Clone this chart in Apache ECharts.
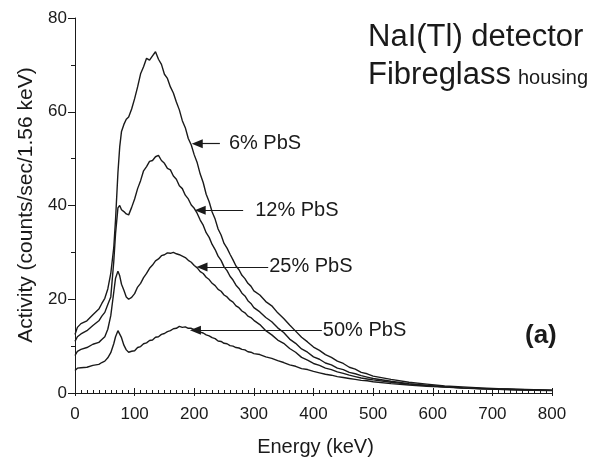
<!DOCTYPE html>
<html>
<head>
<meta charset="utf-8">
<script src="https://cdn.jsdelivr.net/npm/echarts@6/dist/echarts.min.js"></script>
<style>
  html, body { margin: 0; padding: 0; background: #ffffff; }
  #chart { width: 613px; height: 457px; }
</style>
</head>
<body>
<div id="chart"></div>
<script>
// Gamma spectra, NaI(Tl) detector in fibreglass housing, for four PbS grades
const energyKeV = [0, 4, 10, 20, 30, 40, 45, 50, 55, 60,
  65, 68, 72, 75, 78, 82, 86, 90, 95,
  100, 105, 110, 115, 120, 125, 130, 135, 140, 145,
  150, 155, 160, 165, 170, 175, 180, 185, 190, 195,
  200, 205, 210, 215, 220, 225, 230, 235, 240, 245,
  250, 255, 260, 265, 270, 275, 280, 285, 290, 295, 300,
  310, 320, 330, 340, 350, 360, 370, 380, 390, 400,
  410, 420, 430, 440, 450, 460, 470, 480, 490, 500,
  530, 560, 590, 620, 650, 680, 710, 740, 770, 800];

const pbs6 = [12.5, 14.0, 14.8, 15.4, 16.7, 17.9, 19.1, 20.2, 22.2, 25.5,
  31.0, 37.0, 47.0, 52.5, 55.8, 57.3, 58.4, 58.9, 60.6,
  62.8, 65.3, 68.1, 69.6, 71.4, 71.0, 71.9, 72.8, 71.2, 70.1,
  68.0, 67.1, 65.3, 64.0, 62.1, 60.4, 58.1, 56.6, 54.3, 52.9,
  50.8, 49.1, 46.7, 44.9, 42.4, 40.8, 38.6, 37.1, 35.0, 33.7,
  31.9, 30.9, 29.6, 28.4, 27.1, 26.3, 25.1, 24.4, 23.4, 22.8, 21.8,
  20.9, 19.5, 18.6, 17.1, 15.9, 14.5, 13.2, 11.9, 10.9, 9.8,
  9.1, 8.2, 7.6, 6.8, 6.3, 5.5, 5.1, 4.4, 4.1, 3.6,
  2.9, 2.3, 1.9, 1.5, 1.3, 1.1, 0.9, 0.8, 0.7, 0.6];

const pbs12 = [11.0, 12.0, 12.6, 13.3, 14.4, 15.4, 16.4, 17.2, 18.9, 20.5,
  28.0, 34.0, 39.5, 40.0, 39.1, 38.7, 38.2, 38.0, 39.6,
  41.4, 43.6, 45.3, 47.4, 48.3, 49.4, 49.6, 50.4, 50.7, 49.6,
  49.0, 47.9, 47.6, 46.3, 45.6, 44.2, 43.6, 42.2, 41.4, 40.1,
  39.4, 38.3, 36.9, 35.8, 34.2, 33.2, 31.7, 30.6, 29.2, 28.3,
  26.9, 26.1, 24.9, 24.1, 23.0, 22.3, 21.3, 20.7, 19.7, 19.1, 18.2,
  17.3, 16.1, 15.2, 13.9, 12.9, 11.5, 10.6, 9.4, 8.7, 7.7,
  7.2, 6.4, 6.0, 5.3, 5.0, 4.4, 4.1, 3.7, 3.4, 3.1,
  2.5, 2.0, 1.6, 1.3, 1.1, 0.95, 0.85, 0.75, 0.65, 0.55];

const pbs25 = [8.0, 8.9, 9.3, 9.7, 10.4, 10.8, 11.4, 12.0, 13.6, 16.5,
  21.5, 24.5, 26.0, 25.0, 23.2, 21.9, 20.5, 20.0, 20.4,
  21.2, 22.6, 23.4, 24.6, 25.5, 26.6, 27.3, 28.2, 28.6, 29.3,
  29.5, 29.9, 29.8, 30.0, 29.7, 29.5, 29.2, 28.9, 28.3, 27.9,
  27.2, 26.7, 25.9, 25.5, 24.7, 24.2, 23.4, 22.9, 22.1, 21.7,
  20.9, 20.5, 19.8, 19.4, 18.6, 18.2, 17.5, 17.1, 16.4, 16.1, 15.5,
  14.6, 13.3, 12.4, 11.3, 10.6, 9.5, 8.7, 7.6, 7.0, 6.3,
  5.9, 5.3, 5.0, 4.5, 4.2, 3.8, 3.5, 3.2, 3.0, 2.8,
  2.3, 1.9, 1.6, 1.3, 1.1, 0.95, 0.8, 0.7, 0.62, 0.55];

const pbs50 = [4.8, 5.3, 5.4, 5.5, 5.9, 6.1, 6.5, 6.8, 7.5, 8.6,
  10.5, 12.0, 13.3, 13.0, 11.8, 10.2, 9.2, 8.7, 8.9,
  9.0, 9.7, 9.9, 10.5, 10.7, 11.2, 11.3, 11.9, 12.0, 12.5,
  12.7, 13.1, 13.3, 13.7, 13.8, 14.2, 14.0, 14.1, 13.8, 13.8,
  13.5, 13.4, 13.0, 12.8, 12.4, 12.2, 11.8, 11.6, 11.1, 11.0,
  10.6, 10.5, 10.1, 10.0, 9.7, 9.6, 9.3, 9.2, 8.8, 8.7, 8.4,
  8.2, 7.7, 7.4, 6.9, 6.5, 6.0, 5.7, 5.2, 5.0, 4.6,
  4.3, 4.0, 3.8, 3.5, 3.3, 3.1, 2.9, 2.7, 2.6, 2.4,
  2.0, 1.7, 1.45, 1.25, 1.05, 0.9, 0.8, 0.7, 0.6, 0.5];

const seriesNames = ['6% PbS', '12% PbS', '25% PbS', '50% PbS'];
const spectra = [pbs6, pbs12, pbs25, pbs50];

const titleLine1 = 'NaI(Tl) detector';
const titleLine2a = 'Fibreglass';
const titleLine2b = 'housing';
const panelTag = '(a)';
const xAxisTitle = 'Energy (keV)';
const yAxisTitle = 'Activity (counts/sec/1.56 keV)';

// Leader arrows (data units): label sits right of "from", arrow head at "to"
const arrowLayout = [
  { from: [243, 53.2], to: [205, 53.2], gap: 9 },
  { from: [282, 39.0], to: [210, 39.0], gap: 12 },
  { from: [324, 26.9], to: [213, 26.9], gap: 1 },
  { from: [414, 13.4], to: [202, 13.4], gap: 1 }
];

const FONT = '"Liberation Sans", Arial, Helvetica, sans-serif';
const INK = '#1a1a1a';

const chart = echarts.init(document.getElementById('chart'), null, { renderer: 'canvas' });

chart.setOption({
  animation: false,
  backgroundColor: '#ffffff',
  grid: { left: 75, right: 61, top: 18, bottom: 64, containLabel: false },
  xAxis: [
    {
      type: 'value', min: 0, max: 800, interval: 100,
      axisLine: { show: true, lineStyle: { color: INK, width: 1 } },
      axisTick: { show: true, inside: true, length: 5, lineStyle: { color: INK } },
      minorTick: { show: true, splitNumber: 10, length: 3, lineStyle: { color: INK } },
      axisLabel: { fontFamily: FONT, fontSize: 17, color: INK, margin: 13 },
      splitLine: { show: false }
    },
    {
      // outward stubs of the major ticks
      type: 'value', min: 0, max: 800, interval: 100, position: 'bottom',
      axisLine: { show: false },
      axisTick: { show: true, inside: false, length: 3, lineStyle: { color: INK } },
      axisLabel: { show: false },
      splitLine: { show: false }
    }
  ],
  yAxis: {
    type: 'value', min: 0, max: 80, interval: 20,
    axisLine: { show: true, lineStyle: { color: INK, width: 1 } },
    axisTick: { show: true, inside: false, length: 7, lineStyle: { color: INK } },
    minorTick: { show: true, splitNumber: 2, length: 4, lineStyle: { color: INK } },
    axisLabel: { fontFamily: FONT, fontSize: 17, color: INK, margin: 8 },
    splitLine: { show: false }
  },
  series: spectra.map((vals, i) => ({
    name: seriesNames[i],
    type: 'line',
    xAxisIndex: 0,
    symbol: 'none',
    showSymbol: false,
    silent: true,
    data: energyKeV.map((e, k) => [e, vals[k]]),
    lineStyle: { color: INK, width: 1.4 },
    markLine: {
      silent: true,
      symbol: ['none', 'triangle'],
      symbolSize: [9, 11],
      lineStyle: { color: INK, width: 1.2, type: 'solid' },
      label: {
        show: true, position: 'start', distance: arrowLayout[i].gap,
        formatter: seriesNames[i],
        fontFamily: FONT, fontSize: 20, color: INK
      },
      data: [[{ coord: arrowLayout[i].from }, { coord: arrowLayout[i].to }]]
    }
  })),
  graphic: [
    {
      type: 'text', x: 368, y: 52.6,
      style: { text: titleLine1, font: '31px ' + FONT, fill: INK, textAlign: 'left', textVerticalAlign: 'bottom' }
    },
    {
      type: 'text', x: 368, y: 90.9,
      style: { text: titleLine2a, font: '31px ' + FONT, fill: INK, textAlign: 'left', textVerticalAlign: 'bottom' }
    },
    {
      type: 'text', x: 518, y: 88.8,
      style: { text: titleLine2b, font: '20px ' + FONT, fill: INK, textAlign: 'left', textVerticalAlign: 'bottom' }
    },
    {
      type: 'text', x: 525, y: 349,
      style: { text: panelTag, font: 'bold 26px ' + FONT, fill: INK, textAlign: 'left', textVerticalAlign: 'bottom' }
    },
    {
      type: 'text', x: 315.5, y: 447.8,
      style: { text: xAxisTitle, font: '20px ' + FONT, fill: INK, textAlign: 'center', textVerticalAlign: 'middle' }
    },
    {
      type: 'text', x: 26.5, y: 205, rotation: Math.PI / 2,
      style: { text: yAxisTitle, font: '21px ' + FONT, fill: INK, textAlign: 'center', textVerticalAlign: 'middle' }
    }
  ]
});
</script>
</body>
</html>
